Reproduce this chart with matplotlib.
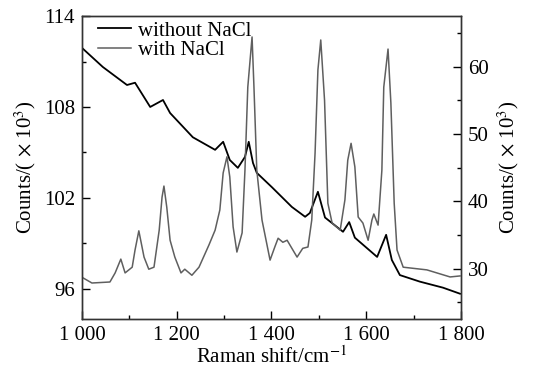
import matplotlib
matplotlib.use('Agg')
import matplotlib.pyplot as plt
from matplotlib.ticker import MultipleLocator, FuncFormatter

plt.rcParams['font.family'] = ['Liberation Serif', 'DejaVu Serif']
plt.rcParams['mathtext.fontset'] = 'stix'

# without NaCl (left axis, x10^3 counts)
shift_without = [1000, 1044, 1095, 1112, 1144, 1171, 1186, 1234, 1281, 1298, 1312, 1329,
                 1344, 1352, 1361, 1369, 1401, 1443, 1471, 1481, 1498, 1513, 1551, 1564,
                 1576, 1623, 1642, 1654, 1671, 1713, 1762, 1798]
counts_without = [111.9, 110.64, 109.45, 109.6, 108.0, 108.46, 107.6, 106.0, 105.17, 105.7, 104.5, 103.98,
                  104.7, 105.7, 104.3, 103.65, 102.7, 101.4, 100.75, 101.0, 102.4, 100.7, 99.76, 100.4,
                  99.37, 98.1, 99.56, 97.9, 96.9, 96.47, 96.07, 95.67]

# with NaCl (right axis, x10^3 counts)
shift_with = [1000, 1021, 1059, 1070, 1082, 1091, 1106, 1112, 1120, 1131, 1141, 1152,
              1163, 1169, 1173, 1179, 1186, 1196, 1209, 1217, 1232, 1247, 1268, 1281,
              1291, 1298, 1306, 1312, 1319, 1327, 1338, 1344, 1350, 1359, 1363, 1369,
              1380, 1397, 1407, 1414, 1424, 1433, 1454, 1466, 1477, 1485, 1492, 1498,
              1504, 1512, 1519, 1528, 1545, 1555, 1561, 1568, 1576, 1583, 1593, 1604,
              1612, 1616, 1625, 1633, 1637, 1646, 1652, 1659, 1665, 1678, 1728, 1777, 1798]
counts_with = [28.7, 27.85, 28.0, 29.35, 31.4, 29.35, 30.2, 32.75, 35.6, 31.7, 29.9, 30.2,
               35.7, 40.6, 42.25, 39.1, 34.2, 31.7, 29.35, 29.9, 29.0, 30.2, 33.5, 35.7,
               38.7, 44.2, 46.6, 43.6, 36.2, 32.45, 35.3, 44.6, 56.95, 64.4, 56.95, 44.6,
               37.2, 31.25, 33.2, 34.5, 33.9, 34.2, 31.7, 33.0, 33.2, 37.2, 47.15, 59.5,
               63.95, 55.0, 39.7, 36.75, 35.7, 40.2, 46.1, 48.6, 45.1, 37.65, 36.75, 34.2,
               37.2, 38.1, 36.45, 44.6, 56.95, 62.6, 54.6, 39.7, 32.75, 30.2, 29.8, 28.75, 28.9]

fig = plt.figure(figsize=(5.33, 3.74), dpi=100)
ax = fig.add_axes([0.1538, 0.147, 0.7111, 0.810])
ax2 = ax.twinx()

l1, = ax.plot(shift_without, counts_without, color='black', lw=1.3, label='without NaCl')
l2, = ax2.plot(shift_with, counts_with, color='#5f5f5f', lw=1.1, label='with NaCl')

ax.set_xlim(1000, 1800)
ax.set_ylim(94, 114)
ax2.set_ylim(22.5, 67.5)

ax.xaxis.set_major_locator(MultipleLocator(200))
ax.xaxis.set_minor_locator(MultipleLocator(100))
ax.xaxis.set_major_formatter(FuncFormatter(lambda v, p: '{:,}'.format(int(v)).replace(',', ' ')))
ax.yaxis.set_major_locator(MultipleLocator(6))
ax.yaxis.set_minor_locator(MultipleLocator(3))
ax2.yaxis.set_major_locator(MultipleLocator(10))
ax2.yaxis.set_minor_locator(MultipleLocator(5))

ax.tick_params(axis='both', which='major', direction='in', length=6, width=1, labelsize=15, pad=5)
ax.tick_params(axis='both', which='minor', direction='in', length=3, width=1)
ax.tick_params(top=False, which='both')
ax2.tick_params(axis='y', which='major', direction='in', length=6, width=1, labelsize=15, pad=5)
ax2.tick_params(axis='y', which='minor', direction='in', length=3, width=1)

for a in (ax, ax2):
    for s in a.spines.values():
        s.set_linewidth(1.0)
        s.set_color('#333333')

ax.set_xlabel(r'Raman shift/cm$^{-1}$', fontsize=15, labelpad=1)
ax.set_ylabel(r'Counts/( $\times$ 10$^{3}$)', fontsize=15, labelpad=4)
ax2.set_ylabel(r'Counts/( $\times$ 10$^{3}$)', fontsize=15, labelpad=5)

ax2.legend(handles=[l1, l2], loc='upper left', bbox_to_anchor=(0.037, 0.99), frameon=False,
           fontsize=15, handlelength=1.6, handletextpad=0.3, labelspacing=0.0,
           borderpad=0.1, borderaxespad=0)

plt.savefig('out.png', dpi=100)
plt.close()
